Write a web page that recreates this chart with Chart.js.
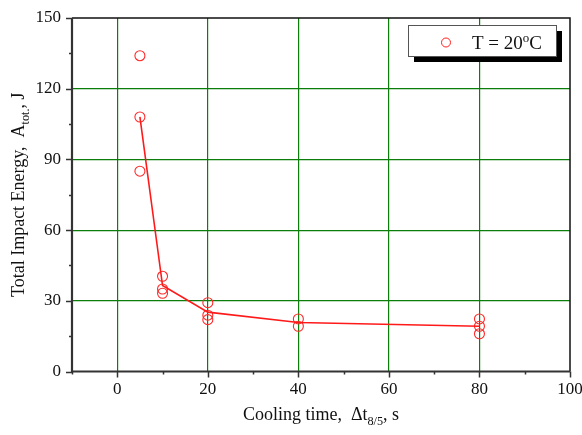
<!DOCTYPE html>
<html>
<head>
<meta charset="utf-8">
<script src="https://cdn.jsdelivr.net/npm/chart.js@4/dist/chart.umd.min.js"></script>
<style>
  html, body { margin: 0; padding: 0; background: #fff; }
  #wrap { width: 582px; height: 435px; }
</style>
</head>
<body>
<div id="wrap"><canvas id="impact" width="582" height="435"></canvas></div>
<script>
// measured impact energy at T = 20 C, per cooling time
const coolTime = [5, 5, 5, 10, 10, 10, 20, 20, 20, 40, 40, 80, 80, 80];
const energy = [134, 108, 85, 40.4, 35, 33.2, 29.2, 23.9, 22, 22.3, 19.2, 22.3, 19.2, 16];
// fitted trend line
const fitTime = [5, 10, 20, 40, 80];
const fitEnergy = [108, 36.5, 25.2, 20.8, 19.2];
const xTickLabels = [0, 20, 40, 60, 80, 100];
const yTickLabels = [0, 30, 60, 90, 120, 150];

const serif = '"Liberation Serif", "Times New Roman", serif';
const gridGreen = "#0a7d0a";

// draws text runs with optional subscripts/superscripts, starting at x
function runs(ctx, parts, x, y, size) {
  let cx = x;
  parts.forEach(p => {
    const s = p.sub || p.sup ? size * 0.68 : size;
    ctx.font = s + "px " + serif;
    const dy = p.sub ? size * 0.28 : p.sup ? -size * 0.38 : 0;
    ctx.fillText(p.t, cx, y + dy);
    cx += ctx.measureText(p.t).width;
  });
  return cx - x;
}
function runsWidth(ctx, parts, size) {
  let w = 0;
  parts.forEach(p => {
    const s = p.sub || p.sup ? size * 0.68 : size;
    ctx.font = s + "px " + serif;
    w += ctx.measureText(p.t).width;
  });
  return w;
}

const decor = {
  id: "decor",
  afterDraw(chart) {
    const ctx = chart.ctx;
    const a = chart.chartArea;
    const xs = chart.scales.x, ys = chart.scales.y;
    ctx.save();

    // tick marks, outside on left and bottom only
    ctx.strokeStyle = "#333";
    ctx.lineWidth = 1.5;
    xs.ticks.forEach(t => {
      const px = Math.round(xs.getPixelForValue(t.value)) + 0.5;
      const len = t.value % 20 === 0 ? 6 : 3;
      ctx.beginPath(); ctx.moveTo(px, a.bottom); ctx.lineTo(px, a.bottom + len); ctx.stroke();
    });
    ys.ticks.forEach(t => {
      const py = Math.round(ys.getPixelForValue(t.value)) + 0.5;
      const len = t.value % 30 === 0 ? 6 : 3;
      ctx.beginPath(); ctx.moveTo(a.left, py); ctx.lineTo(a.left - len, py); ctx.stroke();
    });

    // frame
    ctx.strokeStyle = "#111";
    ctx.lineWidth = 1.5;
    ctx.beginPath(); ctx.moveTo(a.left, a.top); ctx.lineTo(a.right, a.top); ctx.lineTo(a.right, a.bottom); ctx.stroke();
    ctx.strokeStyle = "#333";
    ctx.lineWidth = 2.2;
    ctx.beginPath(); ctx.moveTo(a.left, a.top); ctx.lineTo(a.left, a.bottom); ctx.lineTo(a.right, a.bottom); ctx.stroke();

    // axis titles
    ctx.fillStyle = "#111";
    ctx.textBaseline = "alphabetic";
    ctx.textAlign = "left";
    const xt = [{ t: "Cooling time,  \u0394t" }, { t: "8/5", sub: true }, { t: ", s" }];
    const xw = runsWidth(ctx, xt, 18);
    runs(ctx, xt, (a.left + a.right) / 2 - xw / 2, 420, 18);

    const yt = [{ t: "Total Impact Energy,  A" }, { t: "tot.", sub: true }, { t: ", J" }];
    const yw = runsWidth(ctx, yt, 18);
    ctx.save();
    ctx.translate(24, (a.top + a.bottom) / 2);
    ctx.rotate(-Math.PI / 2);
    runs(ctx, yt, -yw / 2, 0, 18);
    ctx.restore();

    // legend box with drop shadow
    const lx = 408, ly = 25, lw = 148, lh = 31;
    ctx.fillStyle = "#000";
    ctx.fillRect(lx + 6, ly + 6, lw, lh);
    ctx.fillStyle = "#fff";
    ctx.fillRect(lx, ly, lw, lh);
    ctx.strokeStyle = "#555";
    ctx.lineWidth = 1;
    ctx.strokeRect(lx + 0.5, ly + 0.5, lw, lh);
    ctx.strokeStyle = "#ff2020";
    ctx.beginPath(); ctx.arc(446, 42.5, 4.5, 0, Math.PI * 2); ctx.stroke();
    ctx.fillStyle = "#111";
    runs(ctx, [{ t: "T = 20" }, { t: "o", sup: true }, { t: "C" }], 472, 49, 19);

    ctx.restore();
  }
};

new Chart(document.getElementById("impact"), {
  type: "scatter",
  data: {
    datasets: [
      {
        label: "fit",
        data: fitTime.map((x, i) => ({ x: x, y: fitEnergy[i] })),
        showLine: true,
        borderColor: "#ff1a1a",
        borderWidth: 1.6,
        pointRadius: 0,
        tension: 0
      },
      {
        label: "T = 20\u00b0C",
        data: coolTime.map((x, i) => ({ x: x, y: energy[i] })),
        showLine: false,
        pointRadius: 5,
        pointBorderWidth: 1.1,
        pointBorderColor: "#ff2a2a",
        pointBackgroundColor: "rgba(0,0,0,0)"
      }
    ]
  },
  options: {
    responsive: false,
    animation: false,
    layout: { padding: { left: 0, right: 12, top: 18, bottom: 0 } },
    plugins: { legend: { display: false }, tooltip: { enabled: false } },
    scales: {
      x: {
        type: "linear",
        min: -10,
        max: 100,
        afterFit: s => { s.height = 63.5; s.paddingLeft = 0; s.paddingRight = 0; },
        ticks: {
          stepSize: 10,
          padding: 8,
          color: "#111",
          font: { family: serif, size: 17 },
          callback: v => xTickLabels.includes(v) ? String(v) : ""
        },
        grid: {
          drawTicks: false,
          lineWidth: 1.2,
          color: c => (c.tick && c.tick.value % 20 === 0 && c.tick.value > -10 && c.tick.value < 100) ? gridGreen : "rgba(0,0,0,0)"
        },
        border: { display: false }
      },
      y: {
        min: 0,
        max: 150,
        afterFit: s => { s.width = 72; s.paddingTop = 0; s.paddingBottom = 0; },
        ticks: {
          stepSize: 15,
          padding: 11,
          color: "#111",
          font: { family: serif, size: 17 },
          callback: v => yTickLabels.includes(v) ? String(v) : ""
        },
        grid: {
          drawTicks: false,
          lineWidth: 1.2,
          color: c => (c.tick && c.tick.value % 30 === 0 && c.tick.value > 0 && c.tick.value < 150) ? gridGreen : "rgba(0,0,0,0)"
        },
        border: { display: false }
      }
    }
  },
  plugins: [decor]
});
</script>
</body>
</html>
